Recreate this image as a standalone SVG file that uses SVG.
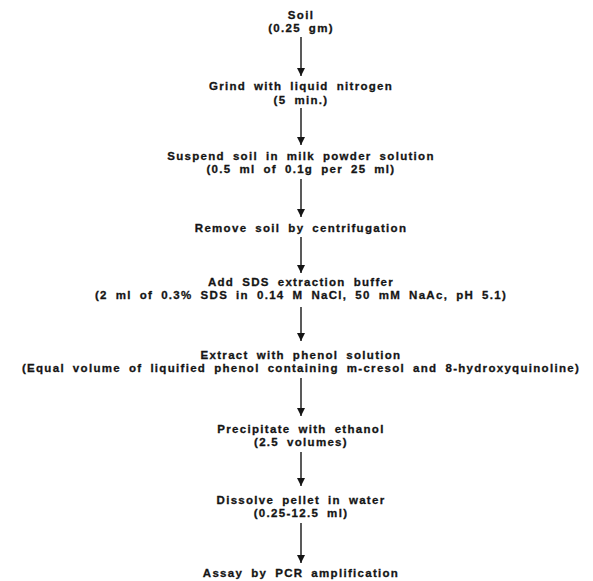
<svg xmlns="http://www.w3.org/2000/svg" width="593" height="581" viewBox="0 0 593 581">
<style>
text{font-family:"Liberation Sans",Arial,sans-serif;font-weight:bold;font-size:11.5px;letter-spacing:1.3px;word-spacing:3.5px;fill:#151515;stroke:#151515;stroke-width:0.3;text-anchor:middle}
.c{stroke:#151515;stroke-width:1.4;fill:none}
</style>
<defs>
<marker id="ah" viewBox="0 0 8 8" refX="8" refY="4" markerWidth="8" markerHeight="8" markerUnits="userSpaceOnUse" orient="auto">
<path d="M0,0 L8,4 L0,8 Z" fill="#151515"/>
</marker>
</defs>
<rect width="593" height="581" fill="#fff"/>
<g id="n1"><text x="301" y="18.5">Soil</text><text x="301" y="31.5">(0.25 gm)</text></g>
<g id="n2"><text x="301" y="90">Grind with liquid nitrogen</text><text x="301" y="103.5">(5 min.)</text></g>
<g id="n3"><text x="301" y="159.5">Suspend soil in milk powder solution</text><text x="301" y="172.5">(0.5 ml of 0.1g per 25 ml)</text></g>
<g id="n4"><text x="301" y="232">Remove soil by centrifugation</text></g>
<g id="n5"><text x="301" y="285.5">Add SDS extraction buffer</text><text x="301" y="298.5">(2 ml of 0.3% SDS in 0.14 M NaCl, 50 mM NaAc, pH 5.1)</text></g>
<g id="n6"><text x="301" y="359">Extract with phenol solution</text><text x="301" y="372">(Equal volume of liquified phenol containing m-cresol and 8-hydroxyquinoline)</text></g>
<g id="n7"><text x="301" y="433">Precipitate with ethanol</text><text x="301" y="446">(2.5 volumes)</text></g>
<g id="n8"><text x="301" y="504">Dissolve pellet in water</text><text x="301" y="517">(0.25-12.5 ml)</text></g>
<g id="n9"><text x="301" y="577">Assay by PCR amplification</text></g>
<g id="connectors">
<line class="c" x1="301" y1="37" x2="301" y2="76" marker-end="url(#ah)"/>
<line class="c" x1="301" y1="108" x2="301" y2="145" marker-end="url(#ah)"/>
<line class="c" x1="301" y1="179" x2="301" y2="217" marker-end="url(#ah)"/>
<line class="c" x1="301" y1="237" x2="301" y2="273" marker-end="url(#ah)"/>
<line class="c" x1="301" y1="307" x2="301" y2="341" marker-end="url(#ah)"/>
<line class="c" x1="301" y1="378" x2="301" y2="416" marker-end="url(#ah)"/>
<line class="c" x1="301" y1="452" x2="301" y2="486" marker-end="url(#ah)"/>
<line class="c" x1="301" y1="523" x2="301" y2="563" marker-end="url(#ah)"/>
</g>
</svg>
